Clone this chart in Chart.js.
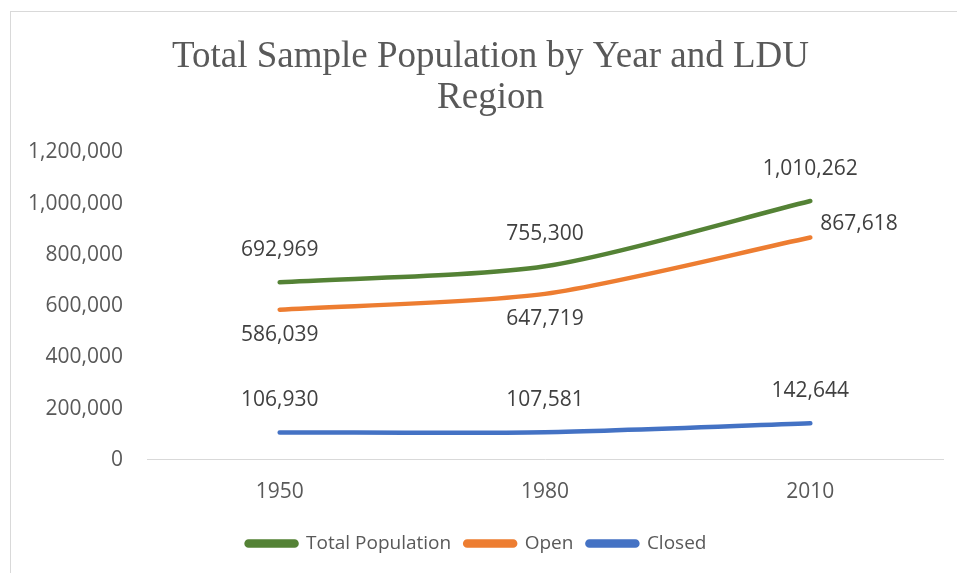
<!DOCTYPE html>
<html>
<head>
<meta charset="utf-8">
<script src="https://cdn.jsdelivr.net/npm/chart.js@4.4.1/dist/chart.umd.min.js"></script>
<style>
  html, body { margin: 0; padding: 0; background: #ffffff; }
  #wrap { width: 957px; height: 573px; }
</style>
</head>
<body>
<div id="wrap"><canvas id="popChart" width="957" height="573"></canvas></div>
<script>
// Datos
const years = ['1950', '1980', '2010'];
const totalPopulation = [692969, 755300, 1010262];
const openRegion = [586039, 647719, 867618];
const closedRegion = [106930, 107581, 142644];
const yTicks = [0, 200000, 400000, 600000, 800000, 1000000, 1200000];

const fmt = v => v.toLocaleString('en-US');

// Etiquetas de valor junto a cada punto
const valueLabels = {
    id: 'valueLabels',
    afterDatasetsDraw(chart) {
        const ctx = chart.ctx;
        ctx.save();
        ctx.font = '21px "Open Sans"';
        ctx.fillStyle = '#404040';
        ctx.textBaseline = 'middle';
        chart.data.datasets.forEach((ds, i) => {
            const meta = chart.getDatasetMeta(i);
            meta.data.forEach((pt, j) => {
                const pos = ds.labelPos[j];
                let x = pt.x, y = pt.y;
                ctx.textAlign = 'center';
                if (pos === 'above') y -= 32;
                else if (pos === 'below') y += 25;
                else if (pos === 'right') { ctx.textAlign = 'left'; x += 10; y -= 14; }
                ctx.fillText(fmt(ds.data[j]), x, y);
            });
        });
        ctx.restore();
    }
};

// Marco del gráfico + título centrado en todo el lienzo
const frame = {
    id: 'frame',
    afterLayout(chart) {
        if (chart.titleBlock) {
            chart.titleBlock.left += 14;
            chart.titleBlock.right += 14;
        }
    },
    beforeDraw(chart) {
        const ctx = chart.ctx;
        ctx.save();
        ctx.strokeStyle = '#d9d9d9';
        ctx.lineWidth = 1;
        ctx.strokeRect(10.5, 11.5, 1000, 1000);
        ctx.restore();
    }
};

const mkSet = (label, data, color, labelPos) => ({
    label: label,
    data: data,
    borderColor: color,
    backgroundColor: color,
    borderWidth: 4.5,
    borderCapStyle: 'round',
    pointRadius: 0,
    tension: 0.25,
    labelPos: labelPos
});

new Chart(document.getElementById('popChart'), {
    type: 'line',
    data: {
        labels: years,
        datasets: [
            mkSet('Total Population', totalPopulation, '#548235', ['above', 'above', 'above']),
            mkSet('Open', openRegion, '#ed7d31', ['below', 'below', 'right']),
            mkSet('Closed', closedRegion, '#4472c4', ['above', 'above', 'above'])
        ]
    },
    options: {
        responsive: false,
        animation: false,
        layout: { padding: { left: 10, right: 14, top: 0, bottom: 10 } },
        plugins: {
            title: {
                display: true,
                text: ['Total Sample Population by Year and LDU', 'Region'],
                color: '#595959',
                font: { family: '"Liberation Serif", "Times New Roman", serif', size: 37, weight: 'normal', lineHeight: 1.1 },
                padding: { top: 37, bottom: 34 }
            },
            legend: {
                position: 'bottom',
                labels: {
                    color: '#595959',
                    font: { family: '"Open Sans"', size: 19 },
                    boxWidth: 50,
                    boxHeight: 4,
                    useBorderRadius: true,
                    borderRadius: 2,
                    padding: 14
                }
            },
            tooltip: { enabled: false }
        },
        scales: {
            x: {
                offset: true,
                grid: { display: false, drawTicks: false },
                border: { display: true, color: '#d9d9d9', width: 1 },
                ticks: { color: '#595959', font: { family: '"Open Sans"', size: 21 }, padding: 20 },
                afterFit(axis) { axis.height = axis.height - 5; }
            },
            y: {
                min: 0,
                max: 1200000,
                afterBuildTicks(axis) { axis.ticks = yTicks.map(v => ({ value: v })); },
                afterFit(axis) { axis.width = 137; },
                grid: { display: false, drawTicks: false },
                border: { display: false },
                ticks: { color: '#595959', font: { family: '"Open Sans"', size: 21 }, padding: 24, callback: v => fmt(v) }
            }
        }
    },
    plugins: [frame, valueLabels]
});
</script>
</body>
</html>
